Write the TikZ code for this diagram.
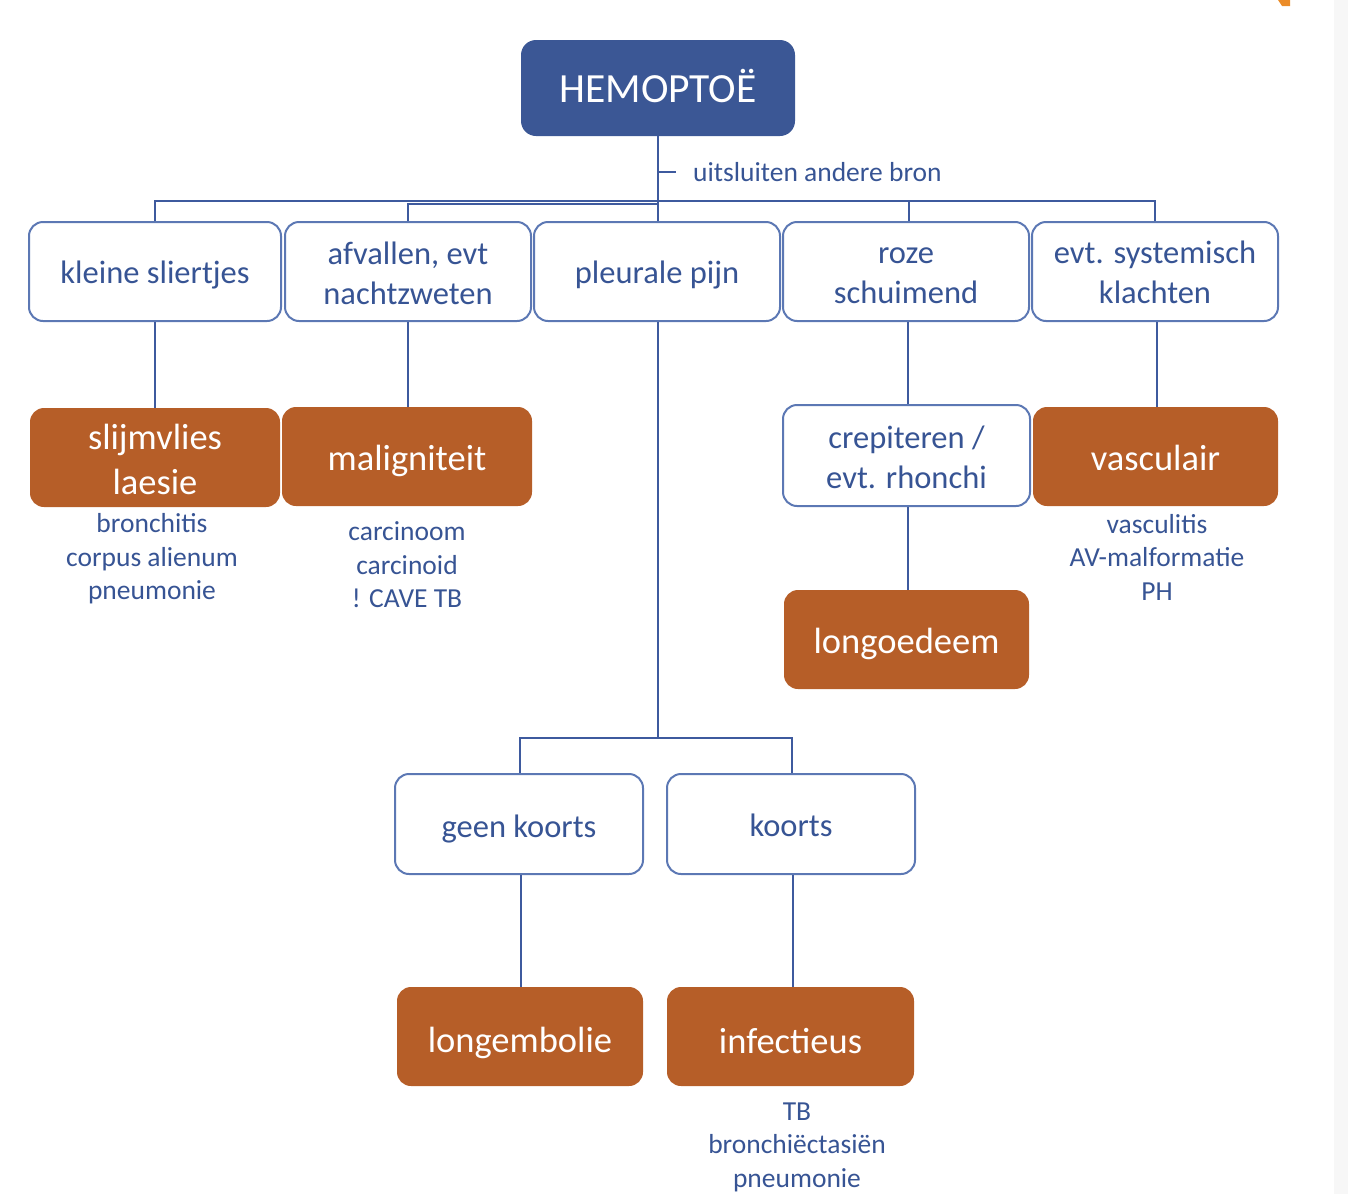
\documentclass[tikz,border=0pt]{standalone}
\usepackage{fontspec}
\setmainfont{Carlito}
\definecolor{hemblue}{RGB}{59,87,149}
\definecolor{lineblue}{RGB}{62,90,158}
\definecolor{txtblue}{RGB}{55,84,148}
\definecolor{boxedge}{RGB}{92,120,180}
\definecolor{orangefill}{RGB}{182,94,40}
\definecolor{orangemark}{RGB}{235,140,40}
\begin{document}
\begin{tikzpicture}[x=1pt,y=-1pt,
  conn/.style={draw=lineblue,line width=2pt},
  qbox/.style={draw=boxedge,line width=2pt,fill=white,rounded corners=14pt,
    minimum width=246pt,minimum height=99pt,inner sep=0pt},
  dxbox/.style={fill=orangefill,rounded corners=14pt,
    minimum width=248pt,minimum height=99pt,inner sep=0pt},
  qtxt/.style={align=center,inner sep=0pt,text=txtblue,font=\fontsize{32.5}{40}\selectfont},
  dxtxt/.style={align=center,inner sep=0pt,text=white,font=\fontsize{36.5}{45}\selectfont},
  sublbl/.style={align=center,text=txtblue,inner sep=0pt,font=\fontsize{27.5}{33.5}\selectfont}]
\useasboundingbox (0,0) rectangle (1348,1194);
\fill[black!3] (1334,0) rectangle (1348,1194);
\fill[orangemark] (1278,0) -- (1290,0) -- (1290,6) -- (1282,6) -- cycle;
% header
\node[fill=hemblue,rounded corners=15pt,minimum width=274pt,minimum height=96pt,
  inner sep=0pt] (hem) at (658,88) {};
\node[inner sep=0pt,text=white,font=\fontsize{41.5}{44}\selectfont] (hemt) at ([yshift=2pt]hem.center) {HEMOPTOË};
% row 1
\node[qbox,minimum width=252pt] (k1) at (155,271.5) {};
\node[qbox] (k2) at (408,271.5) {};
\node[qbox] (k3) at (657,271.5) {};
\node[qbox] (k4) at (906,271.5) {};
\node[qbox] (k5) at (1155,271.5) {};
\node[qtxt] (k1t) at ([yshift=-3pt]k1.center) {kleine sliertjes};
\node[qtxt] (k2t) at ([yshift=-2pt]k2.center) {afvallen, evt\\nachtzweten};
\node[qtxt] (k3t) at ([yshift=-3pt]k3.center) {pleurale pijn};
\node[qtxt] (k4t) at ([yshift=-4pt]k4.center) {roze\\schuimend};
\node[qtxt] (k5t) at ([yshift=-1pt]k5.center) {evt. systemisch\\klachten};
% row 2
\node[dxbox,minimum width=250pt] (d1) at (155,457.5) {};
\node[dxbox,minimum width=250pt] (d2) at (407,456.5) {};
\node[qbox,minimum width=247pt,minimum height=101pt] (c4) at (906.5,455.5) {};
\node[dxbox,minimum width=245pt] (d5) at (1155.5,456.5) {};
\node[dxbox,minimum width=245pt] (d4) at (906.5,639.5) {};
\node[dxtxt] (d1t) at ([yshift=-2pt]d1.center) {slijmvlies\\laesie};
\node[dxtxt] (d2t) at ([yshift=-4pt]d2.center) {maligniteit};
\node[qtxt] (c4t) at ([yshift=-2pt]c4.center) {crepiteren /\\evt. rhonchi};
\node[dxtxt] (d5t) at ([yshift=-1pt]d5.center) {vasculair};
\node[dxtxt] (d4t) at ([yshift=-4pt]d4.center) {longoedeem};
% lower branch
\node[qbox,minimum width=248pt,minimum height=100pt] (g1) at (519,824) {};
\node[qbox,minimum width=248pt,minimum height=100pt] (g2) at (791,824) {};
\node[dxbox,minimum width=246pt] (e1) at (520,1036.5) {};
\node[dxbox,minimum width=247pt] (e2) at (790.5,1036.5) {};
\node[qtxt] (g1t) at ([yshift=-5pt]g1.center) {geen koorts};
\node[qtxt] (g2t) at ([yshift=-1pt]g2.center) {koorts};
\node[dxtxt] (e1t) at ([yshift=-6pt]e1.center) {longembolie};
\node[dxtxt] (e2t) at ([yshift=-4pt]e2.center) {infectieus};
% sub labels
\node[sublbl] (s1) at (152,559) {bronchitis\\corpus alienum\\pneumonie};
\node[sublbl] (s2) at (407,565) {carcinoom\\carcinoid\\! CAVE TB};
\node[sublbl] (s5) at (1157,557) {vasculitis\\AV-malformatie\\PH};
\node[sublbl] (s6) at (797,1147) {TB\\bronchiëctasiën\\pneumonie};
% connectors
\coordinate (bus) at (658,201);
\coordinate (bus2) at (658,204);
\coordinate (tick) at (658,172);
\draw[conn] (hem.south) -- (bus);
\draw[conn] (tick) -- ++(18,0);
\node[anchor=west,text=txtblue,inner sep=0pt,font=\fontsize{27.5}{30}\selectfont] (excl) at (693,172) {uitsluiten andere bron};
\draw[conn] (k1.north) |- (bus);
\draw[conn] (k5.north) |- (bus);
\draw[conn] (k2.north) |- (bus2);
\draw[conn] ([xshift=1pt]k3.north) -- ([xshift=1pt]k3.north |- bus);
\draw[conn] ([xshift=3pt]k4.north) -- ([xshift=3pt]k4.north |- bus);
\draw[conn] (k1.south) -- (k1.south |- d1.north);
\draw[conn] (k2.south) -- (k2.south |- d2.north);
\draw[conn] ([xshift=2pt]k4.south) -- ([xshift=2pt]k4.south |- c4.north);
\draw[conn] ([xshift=2pt]k5.south) -- ([xshift=2pt]k5.south |- d5.north);
\draw[conn] ([xshift=1.5pt]c4.south) -- ([xshift=1.5pt]c4.south |- d4.north);
\coordinate (pj) at (658,738);
\draw[conn] ([xshift=1pt]k3.south) -- (pj);
\draw[conn] ([xshift=1pt]g1.north) |- (pj);
\draw[conn] ([xshift=1pt]g2.north) |- (pj);
\draw[conn] ([xshift=2pt]g1.south) -- ([xshift=2pt]g1.south |- e1.north);
\draw[conn] ([xshift=2pt]g2.south) -- ([xshift=2pt]g2.south |- e2.north);
\end{tikzpicture}
\end{document}
